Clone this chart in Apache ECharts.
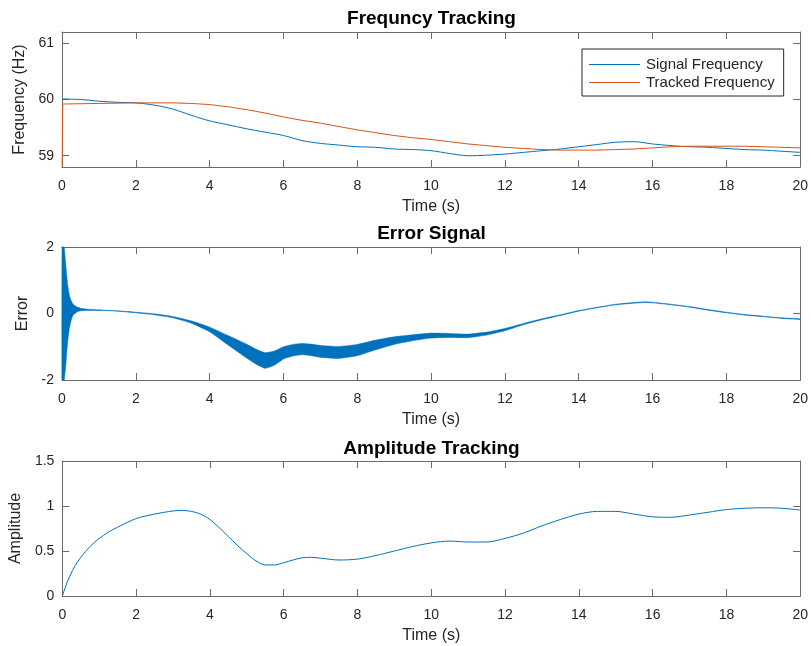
<!DOCTYPE html>
<html>
<head>
<meta charset="utf-8">
<script src="https://cdn.jsdelivr.net/npm/echarts@6/dist/echarts.min.js"></script>
<style>
html,body{margin:0;padding:0;background:#fff;}
#chart{width:811px;height:646px;}
</style>
</head>
<body>
<div id="chart"></div>
<script>
// ---- Data ----
const titles = ['Frequncy Tracking', 'Error Signal', 'Amplitude Tracking'];
const xTicksLabel = 'Time (s)';

// Panel 1: frequency tracking
const sigT = [0,0.5,1,1.5,2,2.5,3,3.5,4,4.5,5,5.5,6,6.5,7,7.5,8,8.5,9,9.5,10,10.5,11,11.5,12,12.5,13,13.5,14,14.5,15,15.5,16,16.5,17,17.5,18,18.5,19,19.5,20];
const sigFreq = [60.01,60.00,59.97,59.95,59.94,59.90,59.83,59.72,59.62,59.55,59.48,59.42,59.36,59.27,59.22,59.19,59.16,59.15,59.12,59.11,59.09,59.04,59.00,59.01,59.03,59.06,59.09,59.12,59.16,59.20,59.24,59.25,59.21,59.18,59.16,59.15,59.13,59.11,59.10,59.08,59.06];
const trkT = [0,0.02,1,2,3,3.5,4,4.5,5,5.5,6,6.5,7,7.5,8,8.5,9,9.5,10,10.5,11,11.5,12,12.5,13,13.5,14,14.5,15,15.5,16,16.5,17,17.5,18,18.5,19,19.5,20];
const trkFreq = [58.5,59.92,59.93,59.94,59.94,59.93,59.91,59.87,59.82,59.76,59.69,59.63,59.58,59.52,59.46,59.41,59.36,59.32,59.29,59.25,59.21,59.18,59.15,59.13,59.11,59.10,59.10,59.10,59.11,59.12,59.14,59.16,59.17,59.17,59.17,59.17,59.16,59.15,59.14];
const freqTicks = [59, 60, 61];

// Panel 2: error signal (envelope of the fast oscillation)
const errT  = [0,0.03,0.06,0.1,0.15,0.2,0.25,0.3,0.4,0.5,0.7,1,1.5,2,2.5,3,3.5,4,4.5,5,5.25,5.5,5.75,6,6.25,6.5,6.75,7,7.5,8,8.5,9,9.5,10,10.5,11,11.5,12,12.5,13,13.5,14,14.5,15,15.5,15.8,16,16.5,17,17.5,18,18.5,19,19.5,20];
const errUp = [3,2.6,2.1,1.5,0.9,0.55,0.38,0.28,0.2,0.16,0.13,0.11,0.08,0.04,-0.01,-0.09,-0.22,-0.41,-0.66,-0.92,-1.07,-1.18,-1.13,-1.0,-0.93,-0.9,-0.92,-0.96,-0.99,-0.93,-0.8,-0.7,-0.64,-0.59,-0.6,-0.62,-0.56,-0.45,-0.3,-0.16,-0.04,0.09,0.19,0.28,0.33,0.35,0.34,0.28,0.21,0.12,0.04,-0.03,-0.08,-0.13,-0.16];
const errLo = [-3,-2.6,-2.1,-1.6,-0.9,-0.45,-0.2,-0.05,0.04,0.08,0.09,0.09,0.07,0.02,-0.04,-0.13,-0.29,-0.55,-0.95,-1.34,-1.52,-1.65,-1.56,-1.37,-1.28,-1.24,-1.27,-1.32,-1.35,-1.27,-1.09,-0.93,-0.82,-0.74,-0.72,-0.73,-0.65,-0.52,-0.34,-0.19,-0.06,0.07,0.17,0.26,0.31,0.33,0.32,0.26,0.19,0.1,0.02,-0.05,-0.1,-0.15,-0.18];

// Panel 3: amplitude tracking
const ampT = [0,0.1,0.2,0.35,0.5,0.75,1,1.25,1.5,2,2.5,3,3.25,3.5,3.75,4,4.25,4.5,4.75,5,5.25,5.5,5.75,6,6.25,6.5,6.75,7,7.5,8,8.5,9,9.5,10,10.5,11,11.5,12,12.5,13,13.5,14,14.5,15,15.5,16,16.5,17,17.5,18,18.5,19,19.5,20];
const ampV = [0,0.12,0.22,0.34,0.43,0.55,0.64,0.71,0.765,0.86,0.91,0.945,0.95,0.94,0.91,0.85,0.76,0.66,0.56,0.47,0.39,0.345,0.345,0.37,0.4,0.425,0.43,0.42,0.40,0.41,0.45,0.5,0.55,0.59,0.61,0.6,0.6,0.64,0.7,0.78,0.85,0.91,0.94,0.94,0.91,0.88,0.875,0.9,0.93,0.96,0.975,0.98,0.975,0.955];

// ---- Styling ----
const BLUE = '#0072BD', ORANGE = '#D95319';
const AX = '#6b6b6b', TXT = '#262626';
const FONT = "'Liberation Sans', Arial, Helvetica, sans-serif";

const grids = [
  {left: 62, right: 10, top: 32, height: 135},
  {left: 62, right: 10, top: 247, height: 133},
  {left: 62, right: 10, top: 461, height: 135}
];
const yDefs = [
  {min: 58.8, max: 61.2, name: 'Frequency (Hz)', custom: freqTicks},
  {min: -2, max: 2, interval: 2, name: 'Error'},
  {min: 0, max: 1.5, interval: 0.5, name: 'Amplitude'}
];

const xAxis = [], yAxis = [];
grids.forEach((g, i) => {
  const common = {type: 'value', gridIndex: i, min: 0, max: 20, interval: 2,
    axisLine: {show: true, onZero: false, lineStyle: {color: AX, width: 1}},
    axisTick: {show: true, inside: true, length: 7, lineStyle: {color: AX}},
    splitLine: {show: false}};
  xAxis.push(Object.assign({}, common, {position: 'bottom',
    name: xTicksLabel, nameLocation: 'middle', nameGap: 32,
    nameTextStyle: {fontFamily: FONT, fontSize: 16, color: TXT},
    axisLabel: {show: true, margin: 12, fontFamily: FONT, fontSize: 14, color: TXT}}));
  xAxis.push(Object.assign({}, common, {position: 'top', axisLabel: {show: false}}));
  const d = yDefs[i];
  const yc = {type: 'value', gridIndex: i, min: d.min, max: d.max,
    axisLine: {show: true, onZero: false, lineStyle: {color: AX, width: 1}},
    splitLine: {show: false}};
  if (d.interval) yc.interval = d.interval;
  const tick = {show: true, inside: true, length: 7, lineStyle: {color: AX}};
  if (d.custom) tick.customValues = d.custom;
  const lab = {show: true, margin: 8, fontFamily: FONT, fontSize: 14, color: TXT};
  if (d.custom) lab.customValues = d.custom;
  yAxis.push(Object.assign({}, yc, {position: 'left', name: d.name, nameLocation: 'middle', nameGap: 31,
    nameTextStyle: {fontFamily: FONT, fontSize: 16, color: TXT},
    axisTick: tick, axisLabel: lab}));
  yAxis.push(Object.assign({}, yc, {position: 'right', axisTick: tick, axisLabel: {show: false}}));
});

const zip = (a, b) => a.map((t, i) => [t, b[i]]);
const errData = errT.map((t, i) => [t, errUp[i], errLo[i]]);
const LINE_ICON = 'path://M0,0H100V2H0Z';

const option = {
  animation: false,
  backgroundColor: '#fff',
  title: titles.map((t, i) => ({
    text: t, left: 431.5, top: [9, 224, 439][i], textAlign: 'center', padding: 0,
    textStyle: {fontFamily: FONT, fontSize: 19, fontWeight: 'bold', color: '#000'}
  })),
  grid: grids,
  xAxis: xAxis,
  yAxis: yAxis,
  legend: {
    data: [{name: 'Signal Frequency', icon: LINE_ICON}, {name: 'Tracked Frequency', icon: LINE_ICON}],
    orient: 'vertical', left: 582, top: 49,
    padding: [8, 9, 6, 7], itemGap: 3, itemWidth: 51, itemHeight: 14, symbolKeepAspect: true,
    backgroundColor: '#fff', borderColor: '#262626', borderWidth: 1, borderRadius: 0,
    textStyle: {fontFamily: FONT, fontSize: 15, color: TXT, padding: [0, 0, 0, 1]}
  },
  series: [
    {name: 'Signal Frequency', type: 'line', xAxisIndex: 0, yAxisIndex: 0, data: zip(sigT, sigFreq),
      symbol: 'none', smooth: 0.3, lineStyle: {color: BLUE, width: 1}, itemStyle: {color: BLUE}},
    {name: 'Tracked Frequency', type: 'line', xAxisIndex: 0, yAxisIndex: 0, data: zip(trkT, trkFreq),
      symbol: 'none', smooth: false, lineStyle: {color: ORANGE, width: 1}, itemStyle: {color: ORANGE}},
    {name: 'Error', type: 'custom', xAxisIndex: 2, yAxisIndex: 2, data: errData,
      renderItem: function (params, api) {
        if (params.dataIndex !== 0) return null;
        const pts = [];
        for (let i = 0; i < errT.length; i++) pts.push(api.coord([errT[i], errUp[i]]));
        for (let i = errT.length - 1; i >= 0; i--) pts.push(api.coord([errT[i], errLo[i]]));
        const cs = params.coordSys;
        const clipped = echarts.graphic.clipPointsByRect(pts, {x: cs.x, y: cs.y, width: cs.width, height: cs.height});
        return {type: 'polygon', shape: {points: clipped, smooth: 0.15},
          style: {fill: BLUE, stroke: BLUE, lineWidth: 0.5}};
      }},
    {name: 'Amplitude', type: 'line', xAxisIndex: 4, yAxisIndex: 4, data: zip(ampT, ampV),
      symbol: 'none', smooth: 0.3, lineStyle: {color: BLUE, width: 1}, itemStyle: {color: BLUE}}
  ]
};

const chart = echarts.init(document.getElementById('chart'), null, {renderer: 'canvas'});
chart.setOption(option);
</script>
</body>
</html>
